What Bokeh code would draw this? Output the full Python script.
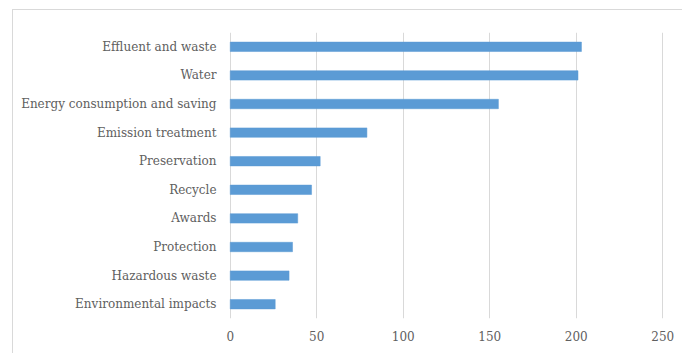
from bokeh.plotting import figure
from bokeh.models import Range1d, FactorRange, FixedTicker
from bokeh.embed import file_html
from bokeh.resources import INLINE

# Topics, listed top to bottom, with their counts
topics = [
    "Effluent and waste",
    "Water",
    "Energy consumption and saving",
    "Emission treatment",
    "Preservation",
    "Recycle",
    "Awards",
    "Protection",
    "Hazardous waste",
    "Environmental impacts",
]
counts = [203, 201, 155, 79, 52, 47, 39, 36, 34, 26]
x_ticks = [0, 50, 100, 150, 200, 250]

FONT = "DejaVu Serif"
TEXT = "#606060"
GRID = "#d9d9d9"

# categorical axis runs bottom-up, so reverse to keep the first topic on top
factors = list(reversed(topics))

p = figure(
    width=670, height=344,
    y_range=FactorRange(factors=factors, range_padding=0),
    # a hair of room past 0 and 250 so the edge gridlines stay visible
    x_range=Range1d(-1, 251),
    output_backend="svg", toolbar_location=None,
    min_border_left=215, min_border_right=19,
    min_border_top=22, min_border_bottom=36,
    margin=(9, 0, 0, 12),
    styles={"border-top": f"1px solid {GRID}", "border-left": f"1px solid {GRID}"},
)
p.outline_line_color = None
p.background_fill_color = "white"
p.border_fill_color = "white"

p.hbar(y=topics, right=counts, left=0, height=0.33,
       fill_color="#5b9bd5", line_color="#5b9bd5", line_width=0.5)

# x axis: labels only, vertical gridlines
p.xaxis.ticker = FixedTicker(ticks=x_ticks)
p.xaxis.axis_line_color = None
p.xaxis.major_tick_line_color = None
p.xaxis.minor_tick_line_color = None
p.xaxis.major_label_standoff = 6
p.xaxis.major_label_text_font = FONT
p.xaxis.major_label_text_font_size = "12px"
p.xaxis.major_label_text_color = TEXT

p.xgrid.ticker = FixedTicker(ticks=x_ticks)
p.xgrid.grid_line_color = GRID
p.xgrid.grid_line_width = 1
p.ygrid.grid_line_color = None

# y axis: category labels only
p.yaxis.axis_line_color = None
p.yaxis.major_tick_line_color = None
p.yaxis.minor_tick_line_color = None
p.yaxis.major_label_standoff = 6
p.yaxis.major_label_text_font = FONT
p.yaxis.major_label_text_font_size = "12px"
p.yaxis.major_label_text_color = TEXT

open("out.html", "w").write(file_html(p, INLINE))
